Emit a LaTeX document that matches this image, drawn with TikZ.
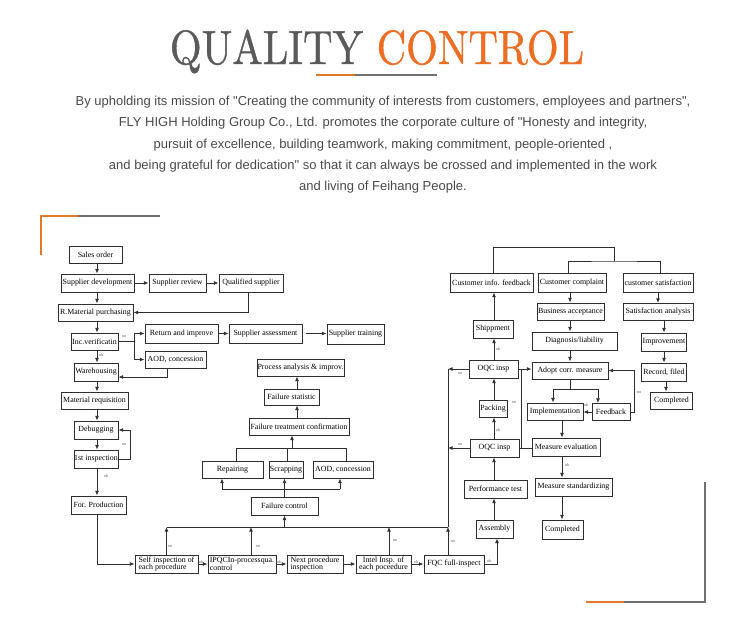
\documentclass[tikz,border=0pt]{standalone}
\usepackage{graphicx}
\usepackage{fontspec}
\newfontfamily\bxf{Liberation Serif}
\newfontfamily\paraf{Liberation Sans}
\newfontfamily\ttlf[FakeBold=0.9]{lmroman10-regular.otf}
\usetikzlibrary{arrows.meta,calc}
\definecolor{ttlgray}{HTML}{5A5A5A}
\definecolor{ttlorange}{HTML}{EC6E24}
\definecolor{paragray}{HTML}{4A4A4A}
\definecolor{linec}{HTML}{2E2E2E}
\definecolor{decogray}{HTML}{707070}
\definecolor{decoorange}{HTML}{E07A2A}
\begin{document}
\begin{tikzpicture}[x=1pt,y=-1pt,
 box/.style={draw=linec, line width=1pt, inner sep=0pt, font=\bxf\fontsize{7.9}{7.3}\selectfont, text=black},
 sz/.style 2 args={minimum width=#1pt, minimum height=#2pt},
 conn/.style={draw=linec, line width=0.75pt},
 arr/.style={conn, -{Latex[length=4.6pt,width=3.8pt]}},
 tiny/.style={font=\bxf\fontsize{4.2}{4.5}\selectfont, text=linec!80, inner sep=0pt},
 para/.style={font=\paraf\fontsize{13}{15}\selectfont, text=paragray, inner sep=0pt, anchor=base},
 deco/.style={line width=2pt}]
\useasboundingbox[fill=white] (0,0) rectangle (750,637);

% ---------- header ----------
\node[anchor=base, inner sep=0pt, font=\ttlf\fontsize{48}{48}\selectfont] (title) at (377,64)
  {\scalebox{0.85}[1]{\textcolor{ttlgray}{QUALITY} \textcolor{ttlorange}{CONTROL}}};
\draw[decoorange, deco] (316,75) -- (355,75);
\draw[decogray, deco] (355,75) -- (437,75);
\node[para] (p1) at (383,105) {By upholding its mission of "Creating the community of interests from customers, employees and partners",};
\node[para] (p2) at (383,126.5) {FLY HIGH Holding Group Co., Ltd. promotes the corporate culture of "Honesty and integrity,};
\node[para] (p3) at (383,148) {pursuit of excellence, building teamwork, making commitment, people-oriented ,};
\node[para] (p4) at (383,169) {and being grateful for dedication" so that it can always be crossed and implemented in the work};
\node[para] (p5) at (383,190.5) {and living of Feihang People.};

% ---------- decorations ----------
\draw[decoorange, deco] (41,255) -- (41,216) -- (78,216);
\draw[decogray, deco] (78,216) -- (160,216);
\draw[decogray, deco] (624,602) -- (705,602) -- (705,482);
\draw[decoorange, deco] (586,602) -- (624,602);

% ---------- left column ----------
\node[box, sz={53}{17}] (sales) at (95.5,254.5) {Sales order};
\node[box, sz={73}{18}] (supdev) at (97.5,283) {Supplier development};
\node[box, sz={57}{18}] (suprev) at (177.5,283) {Supplier review};
\node[box, sz={64}{18}] (qualsup) at (251,283) {Qualified supplier};
\node[box, sz={75}{17}] (rmat) at (95.5,312.5) {R.Material purchasing};
\node[box, sz={47}{17}] (incv) at (94.5,341.5) {Inc.verificatin};
\node[box, sz={73}{19}] (retimp) at (181.5,333.5) {Return and improve};
\node[box, sz={73}{19}] (supass) at (265.5,333.5) {Supplier assessment};
\node[box, sz={57}{20}] (suptrain) at (355.5,334) {Supplier training};
\node[box, sz={61}{17}] (aodA) at (175.5,359.5) {AOD, concession};
\node[box, sz={44}{18}] (ware) at (96,372) {Warehousing};
\node[box, sz={67}{17}] (matreq) at (94.5,400.5) {Material requisition};
\node[box, sz={44}{18}] (debug) at (96,430) {Debugging};
\node[box, sz={44}{18}] (first) at (96,459) {1st inspection};
\node[box, sz={55}{18}] (forprod) at (98.5,505) {For. Production};

% ---------- bottom row ----------
\node[box, sz={63}{18}, align=left] (selfi) at (166.5,564) {Self inspection of\\each procedure};
\node[box, sz={68}{18}, align=left] (ipqc) at (242,564) {IPQCIn-processqua.\\control};
\node[box, sz={56}{18}, align=left] (nextp) at (315,564) {Next procedure\\inspection};
\node[box, sz={55}{18}, align=center] (intel) at (383.5,564) {Intel Insp. of\\each poceedure};
\node[box, sz={60}{18}] (fqc) at (454,564) {FQC full-inspect};

% ---------- failure block ----------
\node[box, sz={67}{18}] (failctl) at (284.5,506) {Failure control};
\node[box, sz={61}{17}] (repair) at (232.5,469.5) {Repairing};
\node[box, sz={34}{17}] (scrap) at (286,469.5) {Scrapping};
\node[box, sz={60}{17}] (aodB) at (343,469.5) {AOD, concession};
\node[box, sz={100}{17}] (ftc) at (299,426.5) {Failure treatment confirmation};
\node[box, sz={55}{16}] (fstat) at (291.5,397) {Failure statistic};
\node[box, sz={87}{17}] (panal) at (300.5,367.5) {Process analysis \& improv.};

% ---------- right part ----------
\node[box, sz={83}{19}] (cif) at (491.5,282.5) {Customer info. feedback};
\node[box, sz={68}{19}] (ccomp) at (572,282.5) {Customer complaint};
\node[box, sz={70}{19}] (csat) at (658,282.5) {customer satisfaction};
\node[box, sz={40}{18}] (ship) at (493,329) {Shippment};
\node[box, sz={67}{17}] (busacc) at (570.5,311.5) {Business acceptance};
\node[box, sz={70}{17}] (satan) at (658,312) {Satisfaction analysis};
\node[box, sz={85}{18}] (diag) at (574.5,341) {Diagnosis/liability};
\node[box, sz={45}{18}] (improv) at (664,342) {Improvement};
\node[box, sz={49}{18}] (oqcA) at (493.5,369) {OQC insp};
\node[box, sz={76}{17}] (adopt) at (570,370.5) {Adopt corr. measure};
\node[box, sz={45}{18}] (record) at (664,372) {Record, filed};
\node[box, sz={42}{17}] (compA) at (671.5,400.5) {Completed};
\node[box, sz={28}{17}] (pack) at (493,408.5) {Packing};
\node[box, sz={56}{17}] (impl) at (555,411.5) {Implementation};
\node[box, sz={38}{17}] (fback) at (611,412) {Feedback};
\node[box, sz={49}{18}] (oqcB) at (494.5,448) {OQC insp};
\node[box, sz={68}{18}] (meval) at (566,447) {Measure evaluation};
\node[box, sz={63}{18}] (perf) at (495.5,489) {Performance test};
\node[box, sz={77}{18}] (mstd) at (573.5,487) {Measure standardizing};
\node[box, sz={37}{18}] (asm) at (494.5,529) {Assembly};
\node[box, sz={41}{19}] (compB) at (562.5,529.5) {Completed};

% ---------- helper coordinates ----------
\coordinate (lx) at (97,0);
\coordinate (cx) at (494,0);
\coordinate (mx) at (570,0);
\coordinate (mx2) at (562,0);
\coordinate (vx) at (521,0);
\coordinate (hy) at (0,527);
\coordinate (fby) at (0,489);
\coordinate (fty) at (0,448);
\coordinate (incj) at ([xshift=16pt]incv.east);
\coordinate (fx) at ([xshift=-6pt]fqc.north);
\coordinate (spl) at (570,389);
\coordinate (topA) at (493,247);
\coordinate (topj) at (614,261);

% ---------- left connectors ----------
\draw[arr] (sales.south -| lx) -- (supdev.north -| lx);
\draw[arr] (supdev.east) -- (suprev.west);
\draw[arr] (suprev.east) -- (qualsup.west);
\draw[arr] (supdev.south -| lx) -- (rmat.north -| lx);
\draw[arr] ([xshift=-3pt]qualsup.south) |- (rmat.east);
\draw[arr] (rmat.south -| lx) -- (incv.north -| lx);
\draw[conn] (incv.east) -- (incj);
\draw[arr] (incj) |- (retimp.west);
\draw[arr] (incj) |- (aodA.west);
\draw[arr] (retimp.east) -- (supass.west);
\draw[arr] ([xshift=3pt]supass.east) -- (supass.east -| suptrain.west);
\draw[arr] ([xshift=-8.5pt]aodA.south) |- ([yshift=-5pt]ware.east);
\draw[arr] (incv.south -| lx) -- (ware.north -| lx);
\draw[arr] (ware.south -| lx) -- (matreq.north -| lx);
\draw[arr] (matreq.south -| lx) -- (debug.north -| lx);
\draw[arr] (debug.south -| lx) -- (first.north -| lx);
\draw[arr] (first.east) -- ++(12,0) |- (debug.east);
\draw[arr] (first.south -| lx) -- (forprod.north -| lx);
\draw[arr] ([xshift=-1.5pt]forprod.south) |- (selfi.west);

% ---------- bottom connectors ----------
\draw[arr] (selfi.east) -- (ipqc.west);
\draw[arr] (ipqc.east) -- (nextp.west);
\draw[arr] (nextp.east) -- (intel.west);
\draw[arr] (intel.east) -- (fqc.west);
\draw[arr] (selfi.north) -- (selfi.north |- hy);
\draw[arr] ([xshift=9pt]ipqc.north) -- ([xshift=9pt]ipqc.north |- hy);
\draw[arr] ([xshift=5.5pt]intel.north) -- ([xshift=5.5pt]intel.north |- hy);
\draw[arr] (fx) -- (fx |- hy);
\draw[conn] (selfi.north |- hy) -- (fx |- hy);
\draw[conn] (fx |- hy) -- (fx |- oqcA.west);
\draw[arr] (failctl.south |- hy) -- (failctl.south);
\draw[arr] (oqcA.west) -- (fx |- oqcA.west);
\draw[arr] (oqcB.west) -- (fx |- oqcB.west);

% ---------- failure connectors ----------
\draw[arr] (failctl.north) -- (failctl.north |- scrap.south);
\draw[conn] ([xshift=-10.5pt]repair.south |- fby) -- ([xshift=-3pt]aodB.south |- fby);
\draw[arr] ([xshift=-10.5pt]repair.south |- fby) -- ([xshift=-10.5pt]repair.south);
\draw[arr] ([xshift=-3pt]aodB.south |- fby) -- ([xshift=-3pt]aodB.south);
\draw[conn] ([xshift=3.5pt]repair.north) -- ([xshift=3.5pt]repair.north |- fty) -- ([xshift=3pt]aodB.north |- fty) -- ([xshift=3pt]aodB.north);
\draw[conn] ([xshift=1pt]scrap.north) -- ([xshift=1pt]scrap.north |- fty);
\draw[arr] ([xshift=-7pt]ftc.south |- fty) -- ([xshift=-7pt]ftc.south);
\draw[arr] ([xshift=-2pt]ftc.north) -- ([xshift=-2pt]ftc.north |- fstat.south);
\draw[arr] ([xshift=5.5pt]fstat.north) -- ([xshift=5.5pt]fstat.north |- panal.south);

% ---------- right connectors ----------
\draw[arr] (asm.north -| cx) -- (perf.south -| cx);
\draw[arr] (perf.north -| cx) -- (oqcB.south -| cx);
\draw[arr] (oqcB.north -| cx) -- (pack.south -| cx);
\draw[arr] (pack.north -| cx) -- (oqcA.south -| cx);
\draw[arr] (oqcA.north -| cx) -- (ship.south -| cx);
\draw[arr] (ship.north -| cx) -- (cif.south -| cx);
\draw[arr] (fqc.east) -| ([xshift=2.5pt]asm.south);
\draw[arr] (oqcA.east) -- (oqcA.east -| adopt.west);
\draw[conn] (oqcB.east) -- (oqcB.east -| meval.west);
\draw[conn] (vx |- oqcB.east) -- (vx |- oqcA.east);
\draw[conn] ([xshift=1.5pt]cif.north) -- ([xshift=1.5pt]cif.north |- topA) -| (topj);
\draw[conn] ([xshift=-4pt]ccomp.north) |- (topj) -| ([xshift=2pt]csat.north);
\draw[arr] (ccomp.south -| mx) -- (busacc.north -| mx);
\draw[arr] (busacc.south -| mx) -- (diag.north -| mx);
\draw[arr] (diag.south -| mx) -- (adopt.north -| mx);
\draw[conn] (adopt.south -| mx) -- (spl);
\draw[arr] (spl) -| ([xshift=-2pt]impl.north);
\draw[arr] (spl) -| ([xshift=-13pt]fback.north);
\draw[arr] (fback.west) -- (fback.west -| impl.east);
\draw[arr] (fback.east) -- ++(4,0) |- (adopt.east);
\draw[arr] (impl.south -| mx2) -- (meval.north -| mx2);
\draw[arr] (meval.south -| mx2) -- (mstd.north -| mx2);
\draw[arr] (mstd.south -| mx2) -- (compB.north -| mx2);
\draw[arr] (csat.south) -- (satan.north);
\draw[arr] (satan.south -| improv.north) -- (improv.north);
\draw[arr] (improv.south) -- (record.north);
\draw[arr] ([xshift=2pt]record.south) -- ([xshift=2pt]record.south |- compA.north);

% ---------- small labels ----------
\node[tiny] (l1) at (124,337) {no};
\node[tiny] (l2) at (101,355) {ok};
\node[tiny] (l3) at (124,445) {no};
\node[tiny] (l4) at (106,476) {ok};
\node[tiny] (l5) at (170,547) {no};
\node[tiny] (l6) at (258,547) {no};
\node[tiny] (l7) at (395,541) {no};
\node[tiny] (l8) at (453,542) {no};
\node[tiny] (l9) at (201,562) {ok};
\node[tiny] (l10) at (279,562) {ok};
\node[tiny] (l11) at (416,562) {ok};
\node[tiny] (l12) at (489,561) {ok};
\node[tiny] (l13) at (460,374) {no};
\node[tiny] (l14) at (460,445) {no};
\node[tiny] (l15) at (498,349) {ok};
\node[tiny] (l16) at (498,430) {ok};
\node[tiny] (l17) at (514,403) {no};
\node[tiny] (l18) at (586,405) {ok};
\node[tiny] (l19) at (639,393) {no};
\node[tiny] (l20) at (567,465) {ok};
\end{tikzpicture}
\end{document}
